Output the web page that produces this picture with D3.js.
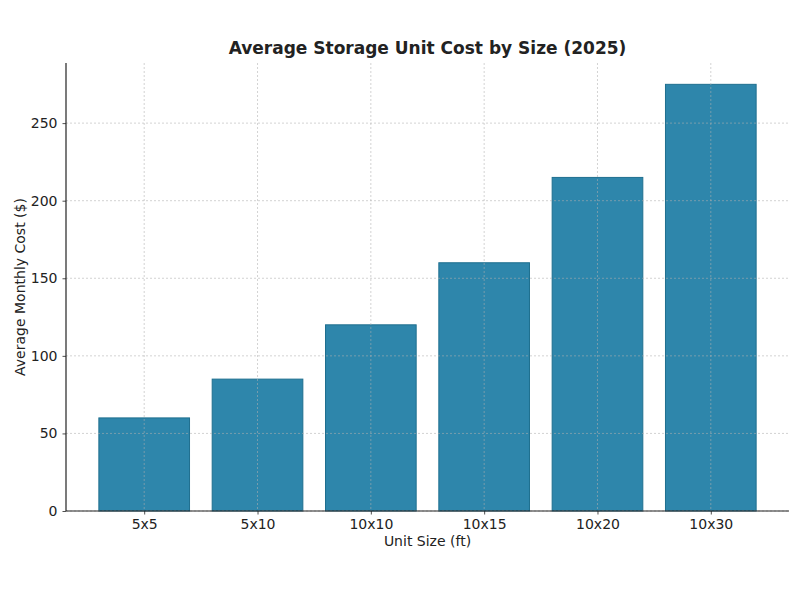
<!DOCTYPE html>
<html>
<head>
<meta charset="utf-8">
<script src="https://cdn.jsdelivr.net/npm/d3@7"></script>
<style>
  body { margin: 0; background: #fff; }
  text { font-family: "DejaVu Sans", sans-serif; fill: #222; }
</style>
</head>
<body>
<div id="viz"></div>
<script>
// data
var sizes = ["5x5", "5x10", "10x10", "10x15", "10x20", "10x30"];
var costs = [60, 85, 120, 160, 215, 275];
var yTicks = [0, 50, 100, 150, 200, 250];

var W = 800, H = 600;
var m = {left: 66, right: 11, top: 63, bottom: 89};

var svg = d3.select("#viz")
  .append("svg")
  .attr("width", W)
  .attr("height", H);

// matplotlib style: bars of width 0.8, 5% margins
var x = d3.scaleLinear()
  .domain([-0.4 - 0.05 * 5.8, 5.4 + 0.05 * 5.8])
  .range([m.left, W - m.right]);
var y = d3.scaleLinear()
  .domain([0, 275 * 1.05])
  .range([H - m.bottom, m.top]);

var data = sizes.map(function(s, i) { return {size: s, cost: costs[i], i: i}; });

// bars
svg.selectAll("rect.bar").data(data).enter()
  .append("rect")
  .attr("class", "bar")
  .attr("x", function(d) { return x(d.i - 0.4); })
  .attr("width", function(d) { return x(d.i + 0.4) - x(d.i - 0.4); })
  .attr("y", function(d) { return y(d.cost); })
  .attr("height", function(d) { return y(0) - y(d.cost); })
  .style("fill", "#2e86ab")
  .style("stroke", "#1f6f8f")
  .style("stroke-width", 1);

// grid on top of bars
var grid = svg.append("g");
grid.selectAll("line.gy").data(yTicks).enter()
  .append("line")
  .attr("x1", m.left).attr("x2", W - m.right)
  .attr("y1", function(d) { return y(d); })
  .attr("y2", function(d) { return y(d); })
  .style("stroke", "#b0b0b0").style("stroke-opacity", 0.7)
  .style("stroke-width", 0.8).style("stroke-dasharray", "2,2");
grid.selectAll("line.gx").data(data).enter()
  .append("line")
  .attr("x1", function(d) { return x(d.i); })
  .attr("x2", function(d) { return x(d.i); })
  .attr("y1", m.top).attr("y2", H - m.bottom)
  .style("stroke", "#b0b0b0").style("stroke-opacity", 0.7)
  .style("stroke-width", 0.8).style("stroke-dasharray", "2,2");

// axes
var xAxis = d3.axisBottom(x)
  .tickValues(d3.range(sizes.length))
  .tickFormat(function(i) { return sizes[i]; })
  .tickSize(3.5).tickSizeOuter(0).tickPadding(5);
var yAxis = d3.axisLeft(y)
  .tickValues(yTicks)
  .tickSize(3.5).tickSizeOuter(0).tickPadding(5);

var gx = svg.append("g")
  .attr("transform", "translate(0," + (H - m.bottom) + ")")
  .call(xAxis);
var gy = svg.append("g")
  .attr("transform", "translate(" + m.left + ",0)")
  .call(yAxis);

[gx, gy].forEach(function(g) {
  g.selectAll("text").style("font-size", "14px").style("font-family", "DejaVu Sans, sans-serif").style("fill", "#222");
  g.selectAll("line").style("stroke", "#222").style("stroke-width", 0.8);
  g.select(".domain").style("stroke", "#222").style("stroke-width", 1.2);
});

// x axis domain should span full width
gx.select(".domain").attr("d", "M" + m.left + ",0H" + (W - m.right));
gy.select(".domain").attr("d", "M0," + (H - m.bottom) + "V" + m.top);

// title and labels
svg.append("text")
  .attr("x", (m.left + W - m.right) / 2)
  .attr("y", 54)
  .attr("text-anchor", "middle")
  .style("font-size", "17px")
  .style("font-weight", "bold")
  .text("Average Storage Unit Cost by Size (2025)");

svg.append("text")
  .attr("x", (m.left + W - m.right) / 2)
  .attr("y", 546)
  .attr("text-anchor", "middle")
  .style("font-size", "14px")
  .text("Unit Size (ft)");

svg.append("text")
  .attr("transform", "translate(25," + ((m.top + H - m.bottom) / 2) + ") rotate(-90)")
  .attr("text-anchor", "middle")
  .style("font-size", "14px")
  .text("Average Monthly Cost ($)");
</script>
</body>
</html>
